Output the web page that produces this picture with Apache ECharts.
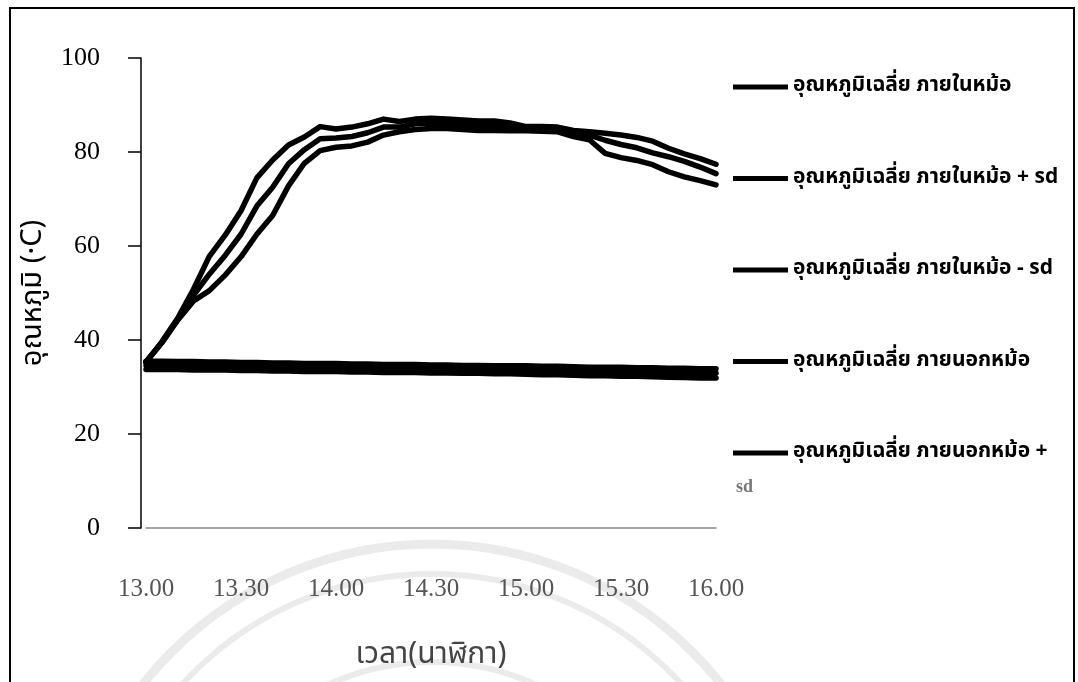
<!DOCTYPE html>
<html>
<head>
<meta charset="utf-8">
<script src="https://cdn.jsdelivr.net/npm/echarts@6/dist/echarts.min.js"></script>
<style>
  html, body { margin: 0; padding: 0; background: #fff; }
  #chart { width: 1078px; height: 682px; }
</style>
</head>
<body>
<div id="chart"></div>
<script>
// Sampling times, every 5 minutes
const times = ['13.00','13.05','13.10','13.15','13.20','13.25','13.30','13.35','13.40','13.45','13.50','13.55',
               '14.00','14.05','14.10','14.15','14.20','14.25','14.30','14.35','14.40','14.45','14.50','14.55',
               '15.00','15.05','15.10','15.15','15.20','15.25','15.30','15.35','15.40','15.45','15.50','15.55',
               '16.00'];

// Average temperature inside the pot (°C)
const insideMean = [35.3,39.5,44.4,49.5,54.0,58.0,62.5,68.5,72.5,77.5,80.5,82.8,
                    83.0,83.3,84.1,85.3,85.3,86.0,86.1,86.0,85.8,85.6,85.6,85.3,
                    85.0,85.0,84.9,84.0,83.6,82.5,81.6,80.9,79.8,79.0,78.0,76.8,
                    75.4];
const insidePlusSd = [35.3,39.6,44.6,50.8,57.8,62.3,67.5,74.5,78.3,81.5,83.2,85.4,
                      84.9,85.3,86.0,87.0,86.5,87.0,87.2,87.0,86.8,86.6,86.6,86.2,
                      85.4,85.4,85.3,84.6,84.3,84.0,83.6,83.1,82.3,80.8,79.6,78.6,
                      77.4];
const insideMinusSd = [35.3,39.4,44.2,48.3,50.5,53.8,57.7,62.5,66.5,72.8,77.6,80.3,
                       81.0,81.3,82.1,83.6,84.3,84.8,85.0,85.0,84.8,84.6,84.6,84.5,
                       84.5,84.4,84.3,83.3,82.6,79.7,78.8,78.2,77.3,75.8,74.7,73.9,
                       73.0];

// Average temperature outside the pot (°C)
const outsideMean = [34.6,34.6,34.6,34.5,34.5,34.5,34.4,34.4,34.3,34.3,34.2,34.2,
                     34.2,34.1,34.1,34.0,34.0,34.0,33.9,33.9,33.8,33.8,33.7,33.7,
                     33.6,33.5,33.5,33.4,33.3,33.3,33.2,33.2,33.1,33.0,33.0,32.9,
                     32.9];
const outsidePlusSd = [35.5,35.5,35.4,35.4,35.3,35.3,35.2,35.2,35.1,35.1,35.0,35.0,
                       35.0,34.9,34.9,34.8,34.8,34.8,34.7,34.7,34.6,34.6,34.5,34.5,
                       34.5,34.4,34.4,34.3,34.2,34.2,34.2,34.1,34.1,34.0,34.0,33.9,
                       33.9];
const outsideMinusSd = [33.7,33.7,33.7,33.6,33.6,33.6,33.5,33.5,33.4,33.4,33.3,33.3,
                        33.3,33.2,33.2,33.1,33.1,33.1,33.0,33.0,32.9,32.9,32.8,32.8,
                        32.7,32.6,32.6,32.5,32.4,32.4,32.3,32.3,32.2,32.1,32.0,31.9,
                        31.9];

const seriesNames = [
  'อุณหภูมิเฉลี่ย ภายในหม้อ',
  'อุณหภูมิเฉลี่ย ภายในหม้อ + sd',
  'อุณหภูมิเฉลี่ย ภายในหม้อ - sd',
  'อุณหภูมิเฉลี่ย ภายนอกหม้อ',
  'อุณหภูมิเฉลี่ย ภายนอกหม้อ + sd',
  'อุณหภูมิเฉลี่ย ภายนอกหม้อ - sd'
];
const seriesData = [insideMean, insidePlusSd, insideMinusSd, outsideMean, outsidePlusSd, outsideMinusSd];

const yTicks = { min: 0, max: 100, interval: 20 };

const thaiFont = "'Noto Sans Thai', 'Noto Sans Thai UI', 'Loma', 'Garuda', 'Tlwg Typo', 'Noto Sans', 'DejaVu Sans', sans-serif";
const serifFont = "'Liberation Serif', 'DejaVu Serif', serif";

// Faint circular seal printed behind the lower part of the page
const sealRings = [
  { r: 368, w: 9 },
  { r: 338, w: 6 },
  { r: 250, w: 6 }
];
const sealGraphics = sealRings.map(function (ring) {
  return {
    type: 'circle',
    shape: { cx: 432, cy: 912, r: ring.r },
    style: { fill: 'none', stroke: '#ebebeb', lineWidth: ring.w },
    silent: true,
    z: -10
  };
});

const chart = echarts.init(document.getElementById('chart'), null, { renderer: 'canvas' });

chart.setOption({
  backgroundColor: '#ffffff',
  animation: false,
  grid: { left: 146, right: 362, top: 58, bottom: 154, containLabel: false },
  legend: {
    data: seriesNames.slice(0, 5),
    orient: 'vertical',
    left: 728,
    top: 70,
    itemWidth: 55,
    itemHeight: 5,
    itemGap: 67.5,
    icon: 'rect',
    selectedMode: false,
    formatter: function (name) {
      return name === seriesNames[4] ? 'อุณหภูมิเฉลี่ย ภายนอกหม้อ +' : name;
    },
    textStyle: {
      fontFamily: thaiFont,
      fontWeight: 'bold',
      fontSize: 21,
      lineHeight: 24,
      color: '#000'
    }
  },
  xAxis: {
    type: 'category',
    data: times,
    boundaryGap: false,
    name: 'เวลา(นาฬิกา)',
    nameLocation: 'middle',
    nameGap: 114,
    nameTextStyle: { fontFamily: thaiFont, fontSize: 30, color: '#444' },
    axisLine: { show: true, lineStyle: { color: '#888', width: 1.5 } },
    axisTick: { show: false },
    axisLabel: {
      interval: 5,
      margin: 49,
      fontFamily: serifFont,
      fontSize: 25,
      color: '#555'
    },
    splitLine: { show: false }
  },
  yAxis: {
    type: 'value',
    min: yTicks.min,
    max: yTicks.max,
    interval: yTicks.interval,
    offset: 5,
    name: 'อุณหภูมิ (·C)',
    nameLocation: 'middle',
    nameGap: 76,
    nameRotate: 90,
    nameTextStyle: { fontFamily: thaiFont, fontSize: 29, color: '#000' },
    axisLine: { show: true, lineStyle: { color: '#000', width: 1.5 } },
    axisTick: { show: true, inside: false, length: 13, lineStyle: { color: '#000', width: 1.5 } },
    axisLabel: { margin: 41, fontFamily: serifFont, fontSize: 26, color: '#000' },
    splitLine: { show: false }
  },
  series: seriesData.map(function (values, i) {
    return {
      name: seriesNames[i],
      type: 'line',
      data: values,
      showSymbol: false,
      symbol: 'none',
      smooth: false,
      color: '#000',
      lineStyle: { color: '#000', width: 5.5, cap: 'round', join: 'round' },
      itemStyle: { color: '#000' }
    };
  }),
  graphic: sealGraphics.concat([
    {
      type: 'rect',
      shape: { x: 10, y: 8, width: 1064, height: 700 },
      style: { fill: 'none', stroke: '#000', lineWidth: 2 },
      silent: true,
      z: 100
    },
    {
      type: 'text',
      left: 736,
      top: 478,
      style: { text: 'sd', font: "bold 18px 'Liberation Serif', serif", fill: '#777' },
      silent: true
    }
  ])
});
</script>
</body>
</html>
